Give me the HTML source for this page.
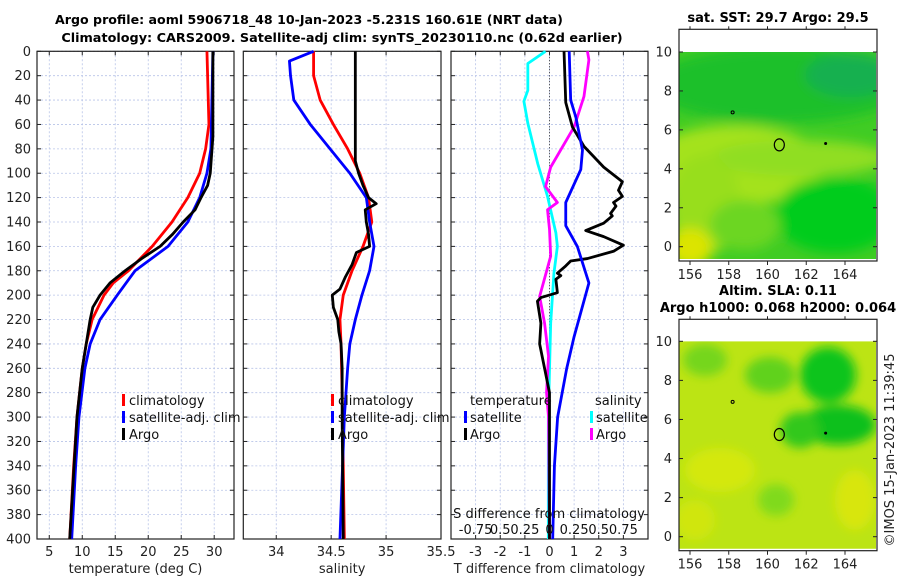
<!DOCTYPE html>
<html><head><meta charset="utf-8"><style>
body{margin:0;background:#fff;width:900px;height:580px;overflow:hidden}
svg{display:block;font-family:"DejaVu Sans","Liberation Sans",sans-serif}
</style></head><body>
<svg id="c" width="900" height="580">
<text x="309" y="24" font-size="12.6" font-weight="bold" text-anchor="middle">Argo profile: aoml 5906718_48 10-Jan-2023 -5.231S 160.61E (NRT data)</text>
<text x="342" y="42" font-size="12.8" font-weight="bold" text-anchor="middle">Climatology: CARS2009. Satellite-adj clim: synTS_20230110.nc (0.62d earlier)</text>
<text x="778" y="22" font-size="13" font-weight="bold" text-anchor="middle">sat. SST: 29.7 Argo: 29.5</text>
<text x="778" y="295" font-size="13" font-weight="bold" text-anchor="middle">Altim. SLA: 0.11</text>
<text x="778" y="312" font-size="13" font-weight="bold" text-anchor="middle">Argo h1000: 0.068 h2000: 0.064</text>
<text transform="translate(894,450) rotate(-90)" font-size="13" text-anchor="middle" fill="#222">©IMOS 15-Jan-2023 11:39:45</text>
</svg>
<script>
// ---- data ----
const depthTicks=[0,20,40,60,80,100,120,140,160,180,200,220,240,260,280,300,320,340,360,380,400];
const tClimD=[0,60,80,100,120,140,160,180,190,200,220,240,260,300,340,400];
const tClimV=[28.9,29.2,28.7,27.8,26,23.6,20.6,17,14.7,13.3,11.5,10.6,10,9.2,8.7,8.1];
const tSatD=[0,80,100,120,140,160,180,200,220,240,260,300,340,400];
const tSatV=[29.8,29.5,28.9,27.8,26,23,18,15.3,12.7,11.2,10.4,9.5,9,8.4];
const tArgoD=[0,70,100,110,120,130,140,150,160,170,180,190,200,210,220,240,260,300,400];
const tArgoV=[29.8,29.8,29.4,29,28,27.1,25.3,23.7,21.8,19,16.5,14.2,12.7,11.6,11.2,10.6,10,9.2,8.1];
const sClimD=[0,20,40,60,80,100,120,140,160,180,200,220,240,280,400];
const sClimV=[34.34,34.34,34.4,34.52,34.65,34.76,34.84,34.87,34.79,34.69,34.61,34.58,34.59,34.6,34.62];
const sSatD=[0,8,20,40,60,80,100,120,140,160,180,200,220,240,260,300,400];
const sSatV=[34.34,34.12,34.13,34.16,34.31,34.49,34.67,34.82,34.85,34.89,34.85,34.78,34.72,34.67,34.65,34.62,34.58];
const sArgoD=[0,60,90,100,110,120,125,130,140,150,160,165,175,185,195,200,210,220,230,240,260,300,400];
const sArgoV=[34.72,34.72,34.72,34.75,34.79,34.84,34.91,34.81,34.82,34.84,34.85,34.73,34.69,34.63,34.58,34.51,34.52,34.56,34.57,34.59,34.6,34.6,34.61];
const dTSatD=[0,40,54,81,97,124,143,160,190,234,260,300,340,400];
const dTSatV=[0.8,0.86,1.07,1.34,1.27,0.66,0.66,1.13,1.6,1.0,0.7,0.33,0.2,0.13];
const dTArgoD=[0,42,62,78,95,107,114,119,124,127,133,135,141,147,152,159,164,170,172,176,182,184,187,198,202,205,223,240,260,280,400];
const dTArgoV=[0.59,0.66,0.93,1.4,2.2,2.96,2.8,2.96,2.6,2.7,2.48,2.55,2.2,1.47,2.2,3.0,2.6,1.54,0.86,0.66,0.32,0.46,0.26,0.32,-0.35,-0.49,-0.35,-0.4,-0.2,0,0];
const dSSatD=[0,10,32,41,59,92,119,149,160,182,223,300,400];
const dSSatV=[-0.04,-0.22,-0.22,-0.26,-0.22,-0.12,-0.02,0.065,0.08,0.045,0.012,-0.012,-0.012];
const dSArgoD=[0,7,37,62,95,111,124,130,146,168,179,201,223,250,280,300,400];
const dSArgoV=[0.385,0.4,0.35,0.25,0.012,-0.04,0.08,-0.02,0,0.012,-0.025,-0.1,-0.05,-0.01,-0.03,-0.01,0];
const tTicks=[5,10,15,20,25,30];
const sTicks=[34,34.5,35,35.5];
const dTicks=[-3,-2,-1,0,1,2,3];
const dsTickLabels=["-0.75","0.5","0.25","0","0.25","0.5","0.75"];
const latTicks=[0,2,4,6,8,10];
const lonTicks=[156,158,160,162,164];

const svg=document.getElementById('c');
const NS='http://www.w3.org/2000/svg';
function mk(tag,attrs,parent){const e=document.createElementNS(NS,tag);for(const k in attrs)e.setAttribute(k,attrs[k]);(parent||svg).appendChild(e);return e;}
const Y0=51.3,Y1=539,yD=d=>Y0+d*(Y1-Y0)/400;

function panel(name,x0,x1,vmin,vmax,ticks,labels,xlabel,showY){
  const xs=v=>x0+(v-vmin)/(vmax-vmin)*(x1-x0);
  const g=mk('g',{});
  
  
  ticks.forEach((t,i)=>{
    const l=mk('line',{x1:xs(t),x2:xs(t),y1:Y0,y2:Y1,stroke:'#b8c4e8','stroke-width':0.8,'stroke-dasharray':'2,2'},g);
    
    mk('line',{x1:xs(t),x2:xs(t),y1:Y1,y2:Y1-4,stroke:'#222'},g);
    mk('line',{x1:xs(t),x2:xs(t),y1:Y0,y2:Y0+4,stroke:'#222'},g);
    const tx=mk('text',{x:xs(t),y:556,'font-size':13,'text-anchor':'middle',fill:'#222'},g);
    tx.textContent=labels[i];
    
  });
  depthTicks.forEach(d=>{
    const l=mk('line',{x1:x0,x2:x1,y1:yD(d),y2:yD(d),stroke:'#b8c4e8','stroke-width':0.8,'stroke-dasharray':'2,2'},g);
    
    mk('line',{x1:x0,x2:x0+4,y1:yD(d),y2:yD(d),stroke:'#222'},g);
    mk('line',{x1:x1,x2:x1-4,y1:yD(d),y2:yD(d),stroke:'#222'},g);
    if(showY){const t=mk('text',{x:31,y:yD(d)+4.5,'font-size':13,'text-anchor':'end',fill:'#222'},g);t.textContent=d;
      }
  });
  const b=mk('rect',{x:x0,y:Y0,width:x1-x0,height:Y1-Y0,fill:'none',stroke:'#222','stroke-width':1.2},g);
  
  const xl=mk('text',{x:(x0+x1)/2,y:573,'font-size':13,'text-anchor':'middle',fill:'#222'},g);
  xl.textContent=xlabel;
  
  return {g,xs};
}
function line(p,D,V,color,name,scale){
  const pts=D.map((d,i)=>p.xs(V[i]*(scale||1))+','+yD(d)).join(' ');
  const e=mk('polyline',{points:pts,fill:'none',stroke:color,'stroke-width':2.8,'stroke-linejoin':'round'},p.g);
  
}
function legend(g,x,rows){
  rows.forEach((r,i)=>{
    const y=400+i*17;
    mk('rect',{x:x,y:y-6,width:3,height:12,fill:r[1]},g);
    const t=mk('text',{x:x+7,y:y+5,'font-size':13,fill:'#111'},g);t.textContent=r[0];
    
  });
}
// panel 1
const p1=panel('temperature-panel',37,234,3.14,33,tTicks,tTicks.map(String),'temperature (deg C)',true);
line(p1,tClimD,tClimV,'#ff0000','temp-climatology-line');
line(p1,tSatD,tSatV,'#0000ff','temp-satellite-line');
line(p1,tArgoD,tArgoV,'#000000','temp-argo-line');
legend(p1.g,122,[['climatology','#f00'],['satellite-adj. clim','#00f'],['Argo','#000']]);
// panel 2
const p2=panel('salinity-panel',243.3,441,33.7,35.5,sTicks,sTicks.map(String),'salinity',false);
line(p2,sClimD,sClimV,'#ff0000','sal-climatology-line');
line(p2,sSatD,sSatV,'#0000ff','sal-satellite-line');
line(p2,sArgoD,sArgoV,'#000000','sal-argo-line');
legend(p2.g,331,[['climatology','#f00'],['satellite-adj. clim','#00f'],['Argo','#000']]);
// panel 3
const p3=panel('difference-panel',451,648,-4,4,dTicks,dTicks.map(String),'T difference from climatology',false);
const z=mk('line',{x1:p3.xs(0),x2:p3.xs(0),y1:Y0,y2:Y1,stroke:'#333','stroke-dasharray':'1,2'},p3.g);

line(p3,dSSatD,dSSatV,'#00ffff','sal-diff-satellite-line',4);
line(p3,dSArgoD,dSArgoV,'#ff00ff','sal-diff-argo-line',4);
line(p3,dTArgoD,dTArgoV,'#000000','temp-diff-argo-line');
line(p3,dTSatD,dTSatV,'#0000ff','temp-diff-satellite-line');
{const t=mk('text',{x:470,y:405,'font-size':13,fill:'#111'},p3.g);t.textContent='temperature';
 const t2=mk('text',{x:595,y:405,'font-size':13,fill:'#111'},p3.g);t2.textContent='salinity';}
[['satellite','#00f',464],['Argo','#000',464]].forEach((r,i)=>{const y=417+i*17;mk('rect',{x:r[2],y:y-6,width:3,height:12,fill:r[1]},p3.g);const t=mk('text',{x:r[2]+6,y:y+5,'font-size':13,fill:'#111'},p3.g);t.textContent=r[0];});
[['satellite','#0ff',590],['Argo','#f0f',590]].forEach((r,i)=>{const y=417+i*17;mk('rect',{x:r[2],y:y-6,width:3,height:12,fill:r[1]},p3.g);const t=mk('text',{x:r[2]+6,y:y+5,'font-size':13,fill:'#111'},p3.g);t.textContent=r[0];});
{const t=mk('text',{x:549,y:518,'font-size':13,'text-anchor':'middle',fill:'#111'},p3.g);t.textContent='S difference from climatology';
 dsTickLabels.forEach((l,i)=>{const tx=mk('text',{x:p3.xs(dTicks[i]),y:534,'font-size':13,'text-anchor':'middle',fill:'#111'},p3.g);tx.textContent=l;});}

// maps
function map(name,top,bot,dTop,lat0y,blobs,base,blur){
  const g=mk('g',{});
  
  const id='clip'+name;
  const cp=mk('clipPath',{id:id},g);mk('rect',{x:679,y:dTop,width:197,height:bot-2-dTop},cp);
  const fid='f'+name;const f=mk('filter',{id:fid,x:'-50%',y:'-50%',width:'200%',height:'200%'},g);mk('feGaussianBlur',{stdDeviation:blur},f);
  const gg=mk('g',{'clip-path':'url(#'+id+')'},g);
  mk('rect',{x:679,y:dTop,width:197,height:bot-dTop,fill:base},gg);
  const gb=mk('g',{filter:'url(#'+fid+')'},gg);
  blobs.forEach(b=>mk('ellipse',{cx:b[0],cy:b[1],rx:b[2],ry:b[3],fill:b[4]},gb));
  const ly=v=>lat0y-v*(lat0y-dTop)/10, lx=v=>690+(v-156)*(845-690)/8;
  mk('ellipse',{cx:lx(160.61),cy:ly(5.23),rx:5,ry:6,fill:'none',stroke:'#000','stroke-width':1.2},g);
  mk('circle',{cx:lx(163),cy:ly(5.3),r:1.5,fill:'#000'},g);
  mk('circle',{cx:lx(158.2),cy:ly(6.9),r:1.5,fill:'none',stroke:'#000'},g);
  mk('rect',{x:679,y:top,width:198,height:bot-top,fill:'none',stroke:'#222','stroke-width':1.2},g);
  latTicks.forEach(v=>{mk('line',{x1:679,x2:683,y1:ly(v),y2:ly(v),stroke:'#222'},g);mk('line',{x1:877,x2:873,y1:ly(v),y2:ly(v),stroke:'#222'},g);
    const t=mk('text',{x:672,y:ly(v)+4.5,'font-size':13,'text-anchor':'end',fill:'#222'},g);t.textContent=v;});
  lonTicks.forEach(v=>{mk('line',{x1:lx(v),x2:lx(v),y1:bot,y2:bot+4,stroke:'#222'},g);mk('line',{x1:lx(v),x2:lx(v),y1:top,y2:top-3,stroke:'#222'},g);
    const t=mk('text',{x:lx(v),y:bot+18,'font-size':13,'text-anchor':'middle',fill:'#222'},g);t.textContent=v;});
}
map('sst-map',29.3,261,52,246.7,[
 [780,85,130,38,'#1ec02a'],[850,75,45,22,'#12b050'],
 [735,165,90,40,'#a4e21c'],[800,158,90,18,'#90de20'],[705,205,35,50,'#98de1e'],
 [835,215,60,38,'#00cc1e'],[690,248,22,20,'#dce400'],[745,225,35,25,'#6cd624']],'#40cc24',6);
map('sla-map',319.3,550.7,341.3,536.7,[
 [828,375,28,28,'#10c41c'],[838,425,38,20,'#08c01c'],[800,430,20,18,'#30c81c'],[770,375,25,18,'#60d21c'],[705,360,22,16,'#74d61c'],
 [720,470,35,22,'#d4e810'],[776,500,18,16,'#80da1c'],[855,500,20,30,'#d8e610'],[695,520,20,20,'#d0e610']],'#bce414',5);
</script>
</body></html>
